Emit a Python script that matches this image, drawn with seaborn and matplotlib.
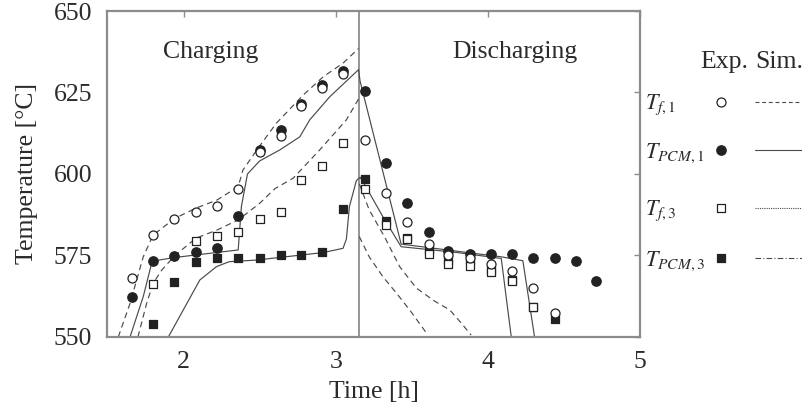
import numpy as np
import pandas as pd
import matplotlib
matplotlib.use("Agg")
import matplotlib.pyplot as plt
import seaborn as sns

# ---------------- data ----------------
t_exp = [1.66, 1.80, 1.94, 2.08, 2.22, 2.36, 2.50, 2.64, 2.77, 2.91, 3.05,
         3.19, 3.33, 3.47, 3.61, 3.74, 3.88, 4.02, 4.16, 4.30, 4.44, 4.58, 4.71]
nan = np.nan
Tf1_exp = [568.2, 581.2, 586.2, 588.3, 590.3, 595.3, 606.7, 611.6, 620.8, 626.5, 630.7,
           610.4, 594.3, 585.2, 578.4, 575.2, 574.2, 572.3, 570.3, 565.1, 557.5, nan, nan]
Tpcm1_exp = [562.2, 573.3, 574.9, 576.2, 577.2, 587.2, 607.5, 613.5, 621.5, 627.3, 631.5,
             625.5, 603.3, 591.2, 582.2, 576.5, 575.4, 575.4, 575.4, 574.1, 574.1, 573.3, 567.2]
Tf3_exp = [nan, 566.2, nan, 579.5, 581.1, 582.3, 586.2, 588.3, 598.2, 602.5, 609.4,
           595.3, 584.4, 580.0, 575.5, 572.5, 571.8, 570.0, 567.2, 559.1, nan, nan, nan]
Tpcm3_exp = [nan, 554.1, 567.0, 573.1, 574.1, 574.1, 574.1, 575.2, 575.2, 576.2, 589.2,
             598.5, 585.5, 580.5, 576.7, 573.6, 573.6, 570.5, 567.5, 559.3, 555.6, nan, nan]

# simulation curves
t_f1_sim_c = [1.571, 1.648, 1.735, 1.80, 1.943, 2.08, 2.219, 2.359, 2.39, 2.497, 2.61, 2.786, 2.917, 3.048, 3.150]
Tf1_sim_c = [550.0, 560.3, 574.6, 581.3, 586.4, 589.5, 592.0, 596.1, 601.2, 608.4, 615.6, 624.2, 629.8, 634.0, 638.5]
t_f1_sim_d = [3.155, 3.22, 3.32, 3.42, 3.53, 3.65, 3.75, 3.83, 3.89]
Tf1_sim_d = [597.0, 589.0, 580.8, 571.6, 565.0, 561.0, 558.3, 554.0, 550.6]

t_f3_sim_c = [1.70, 1.757, 1.80, 1.856, 1.943, 2.081, 2.219, 2.359, 2.50, 2.60, 2.72, 2.895, 3.07, 3.150]
Tf3_sim_c = [550.0, 560.3, 566.5, 570.5, 575.0, 580.3, 582.8, 585.9, 591.0, 595.5, 598.7, 607.4, 616.6, 623.0]
t_f3_sim_d = [3.155, 3.22, 3.31, 3.40, 3.486, 3.55, 3.606]
Tf3_sim_d = [580.8, 574.6, 568.5, 563.4, 558.3, 554.2, 550.6]

t_pcm1_sim = [1.648, 1.735, 1.79, 1.80, 1.943, 2.359, 2.38, 2.42, 2.50, 2.633, 2.764, 2.829, 2.961, 3.150,
              3.160, 3.43, 3.80, 4.088, 4.23, 4.307]
Tpcm1_sim = [550.0, 562.4, 572.6, 573.3, 574.4, 576.7, 590.0, 600.0, 604.0, 607.4, 611.4, 616.6, 623.7, 632.0,
             628.5, 578.5, 576.3, 574.6, 573.4, 550.0]

t_pcm3_sim = [1.90, 1.998, 2.107, 2.217, 2.30, 2.48, 2.917, 3.048, 3.07, 3.09, 3.136, 3.16, 3.18, 3.31,
              3.43, 3.80, 4.088, 4.154]
Tpcm3_sim = [550.0, 558.3, 567.5, 571.6, 573.1, 573.6, 575.9, 577.2, 580.0, 590.0, 598.0, 599.0, 597.6, 586.9,
             577.7, 575.9, 574.1, 550.0]

switch_time = 3.155
phase_labels = ["Charging", "Discharging"]
legend_labels = [r"$T_{f,1}$", r"$T_{PCM,1}$", r"$T_{f,3}$", r"$T_{PCM,3}$"]

# ---------------- style ----------------
sns.set_theme(style="white")
plt.rcParams["font.family"] = ["Liberation Serif", "DejaVu Serif"]
plt.rcParams["mathtext.fontset"] = "stix"

W, H = 803, 412
fig = plt.figure(figsize=(W / 100, H / 100), dpi=100)
L, R, B, T = 107.5, 640, 337, 11
ax = fig.add_axes([L / W, 1 - B / H, (R - L) / W, (B - T) / H])

TXT = "#2b2b2b"
SP = "#8c8c8c"
LC = "#4a4a4a"
MC = "#222222"
FS = 18.5

dash = (0, (5, 3.5))
lw_sim = 0.85

# simulation lines
sns.lineplot(x=t_f1_sim_c, y=Tf1_sim_c, ax=ax, color=LC, lw=lw_sim, linestyle=dash, sort=False, estimator=None)
sns.lineplot(x=t_f1_sim_d, y=Tf1_sim_d, ax=ax, color=LC, lw=lw_sim, linestyle=dash, sort=False, estimator=None)
sns.lineplot(x=t_f3_sim_c, y=Tf3_sim_c, ax=ax, color=LC, lw=lw_sim, linestyle=dash, sort=False, estimator=None)
sns.lineplot(x=t_f3_sim_d, y=Tf3_sim_d, ax=ax, color=LC, lw=lw_sim, linestyle=dash, sort=False, estimator=None)
sns.lineplot(x=t_pcm1_sim, y=Tpcm1_sim, ax=ax, color=LC, lw=lw_sim, sort=False, estimator=None)
sns.lineplot(x=t_pcm3_sim, y=Tpcm3_sim, ax=ax, color=LC, lw=lw_sim, sort=False, estimator=None)

ax.axvline(switch_time, color=SP, lw=1.3, zorder=1)

# experimental markers (filled first, open on top)
sc_kw = dict(ax=ax, edgecolor=MC, linewidth=0.9, zorder=3, legend=False)
sns.scatterplot(x=t_exp, y=Tpcm3_exp, marker="s", s=34, color=MC, **sc_kw)
sns.scatterplot(x=t_exp, y=Tpcm1_exp, marker="o", s=46, color=MC, **sc_kw)
sns.scatterplot(x=t_exp, y=Tf3_exp, marker="s", s=34, color="white", **sc_kw)
sns.scatterplot(x=t_exp, y=Tf1_exp, marker="o", s=42, color="white", **sc_kw)

ax.set_xlim(1.5, 5.0)
ax.set_ylim(550, 650)
ax.set_xticks([2, 3, 4, 5])
ax.set_yticks([550, 575, 600, 625, 650])
ax.tick_params(direction="in", length=4, width=1, color=SP, top=True, right=True,
               labelsize=FS, labelcolor=TXT)
ax.tick_params(axis="y", pad=11)
ax.tick_params(axis="x", pad=10)
for s in ax.spines.values():
    s.set_color(SP)
    s.set_linewidth(1.6)
ax.set_xlabel("Time [h]", fontsize=FS, color=TXT, labelpad=6)
ax.set_ylabel("Temperature [°C]", fontsize=FS, color=TXT, labelpad=11)

ax.text(2.18, 637.5, phase_labels[0], fontsize=FS, color=TXT, ha="center", va="center")
ax.text(4.175, 637.5, phase_labels[1], fontsize=FS, color=TXT, ha="center", va="center")

# ---------------- custom legend table (right side) ----------------
lax = fig.add_axes([0, 0, 1, 1], facecolor="none")
lax.set_xlim(0, W)
lax.set_ylim(H, 0)
lax.axis("off")
lax.text(724, 62, "Exp.", fontsize=FS, color=TXT, ha="center", va="center")
lax.text(779, 62, "Sim.", fontsize=FS, color=TXT, ha="center", va="center")
row_y = [102, 150, 208, 258]
mk = [("o", "white", 42), ("o", MC, 46), ("s", "white", 34), ("s", MC, 34)]
ls = [(0, (3.5, 2.5)), "-", (0, (1, 1)), (0, (5, 2, 1, 2))]
for y, lab, (m, fc, s), st in zip(row_y, legend_labels, mk, ls):
    lax.text(645, y + 3, lab, fontsize=16, color=TXT, ha="left", va="center")
    lax.scatter([721], [y], marker=m, s=s, facecolor=fc, edgecolor=MC, linewidth=0.9)
    lax.plot([755, 802], [y, y], color=LC, lw=0.8, linestyle=st)

fig.savefig("out.png", dpi=100)
